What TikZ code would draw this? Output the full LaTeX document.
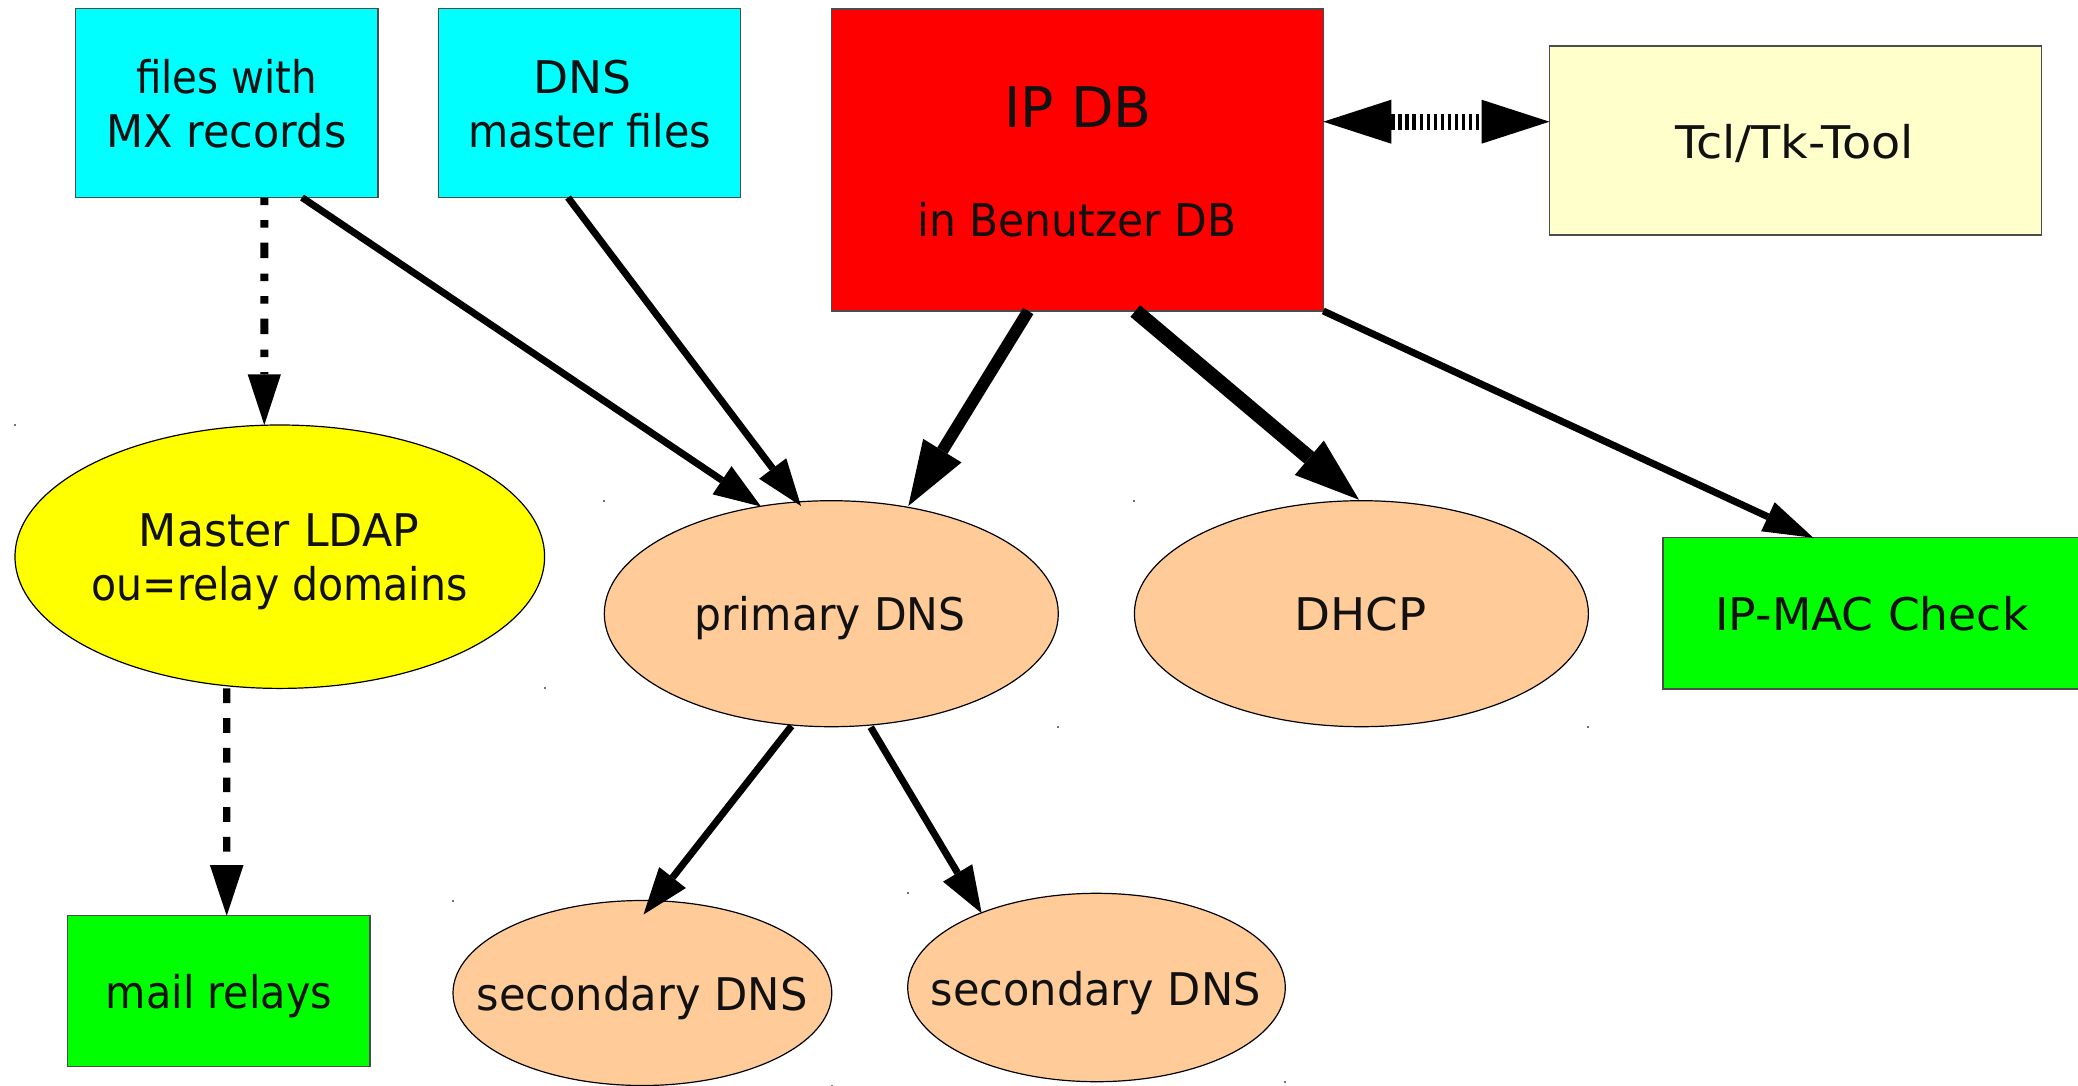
\documentclass[tikz,border=0pt]{standalone}
\usepackage{fontspec}
\setmainfont{DejaVu Sans}
\usetikzlibrary{arrows.meta,calc,shapes.geometric}

\definecolor{filecyan}{HTML}{00FFFF}
\definecolor{dbred}{HTML}{FF0000}
\definecolor{toolcream}{HTML}{FFFFCC}
\definecolor{ldapyellow}{HTML}{FFFF00}
\definecolor{svcpeach}{HTML}{FFCC99}
\definecolor{consgreen}{HTML}{00FF00}
\definecolor{ink}{HTML}{111111}

% set a label line to a given width, keeping its height
\newcommand\fitw[2]{\resizebox{#1pt}{\height}{#2}}

\begin{document}
\begin{tikzpicture}[x=1pt,y=-1pt,
  box/.style={rectangle, draw=black!70, line width=1.3pt, inner sep=0pt, outer sep=0pt},
  oval/.style={ellipse, draw=black, line width=1.2pt, inner sep=0pt, outer sep=0pt, fill=svcpeach},
  lbl/.style={inner sep=0pt, outer sep=0pt, anchor=base, text=ink, font=\fontsize{45}{50}\selectfont},
  biglbl/.style={lbl, font=\fontsize{56}{64}\selectfont},
  flow/.style={line width=7pt, -{Triangle[length=47pt,width=34pt,line width=0pt]}},
  heavy/.style={-{Triangle[length=65pt,width=45pt,line width=0pt]}},
  dotflow/.style={line width=8pt,
    dash pattern=on 7.5pt off 15pt on 7.5pt off 15pt on 15.5pt off 15.5pt,
    -{Triangle[length=50.7pt,width=33.3pt,line width=0pt]}},
  dashflow/.style={line width=7.3pt, dash pattern=on 14.7pt off 15pt,
    -{Triangle[length=50.7pt,width=33.7pt,line width=0pt]}},
  syncflow/.style={line width=15.7pt, dash pattern=on 3.3pt off 3.75pt,
    {Triangle[length=68pt,width=44pt,line width=0pt]}-{Triangle[length=68pt,width=44pt,line width=0pt]}},
  bbdot/.style={fill=black!55}
]
\useasboundingbox (0,0) rectangle (2078,1085);
\fill[white] (0,0) rectangle (2078,1085);

% sources
\node[box, fill=filecyan, minimum width=302.3pt, minimum height=189pt] (mx) at (226.75,103) {};
\node[box, fill=filecyan, minimum width=302.2pt, minimum height=189pt] (dnsm) at (589.7,103) {};
\node[box, fill=dbred, minimum width=491.6pt, minimum height=302pt] (ipdb) at (1077.5,160) {};
\node[box, fill=toolcream, minimum width=492pt, minimum height=189pt] (tool) at (1795.5,140.5) {};

% services
\node[oval, fill=ldapyellow, minimum width=529.6pt, minimum height=263.4pt] (ldap) at (279.8,556.7) {};
\node[oval, minimum width=454pt, minimum height=226pt] (prim) at (831.3,613.7) {};
\node[oval, minimum width=454pt, minimum height=226pt] (dhcp) at (1361.4,613.7) {};
\node[box, fill=consgreen, minimum width=418pt, minimum height=151.3pt] (ipmac) at (1872,613.4) {};
\node[box, fill=consgreen, minimum width=302.3pt, minimum height=151pt] (mail) at (218.85,991.2) {};
\node[oval, minimum width=378.8pt, minimum height=185pt] (sec1) at (642.4,993) {};
\node[oval, minimum width=377.6pt, minimum height=188.4pt] (sec2) at (1096.5,987.5) {};

% bounding-box corner marks of the ellipses
\foreach \e in {ldap,prim,dhcp,sec1,sec2} {
  \fill[bbdot] ($(\e.west |- \e.north)+(-1,-1)$) rectangle +(2,2);
  \fill[bbdot] ($(\e.east |- \e.south)+(-1,-1)$) rectangle +(2,2);
}

% labels
\node[lbl] (mx-l1) at (226.5,93.5) {\fitw{181}{files with}};
\node[lbl] (mx-l2) at (226.5,147) {\fitw{240}{MX records}};
\node[lbl] (dnsm-l1) at (582.5,93.5) {\fitw{98}{DNS}};
\node[lbl] (dnsm-l2) at (589.7,147) {\fitw{243}{master files}};
\node[biglbl] (ipdb-l1) at (1078,127) {\fitw{148}{IP DB}};
\node[lbl] (ipdb-l2) at (1077,236.7) {\fitw{319}{in Benutzer DB}};
\node[lbl] (tool-l) at (1794.5,158.3) {\fitw{239}{Tcl/Tk-Tool}};
\node[lbl] (ldap-l1) at (279,546.7) {\fitw{280}{Master LDAP}};
\node[lbl] (ldap-l2) at (279.6,600) {\fitw{376}{ou=relay domains}};
\node[lbl] (prim-l) at (830,630) {\fitw{271}{primary DNS}};
\node[lbl] (dhcp-l) at (1360.3,630) {\fitw{132}{DHCP}};
\node[lbl] (ipmac-l) at (1872,630) {\fitw{313}{IP-MAC Check}};
\node[lbl] (mail-l) at (219,1008.3) {\fitw{226}{mail relays}};
\node[lbl] (sec1-l) at (642,1010) {\fitw{331}{secondary DNS}};
\node[lbl] (sec2-l) at (1095.7,1005) {\fitw{330}{secondary DNS}};

% connectors
\draw[dotflow] ($(mx.south)+(37.6,0)$) -- ($(ldap.north)+(-15.5,0)$);
\draw[dashflow] ($(ldap.south)+(-53.1,0)$) -- ($(mail.north)+(7.85,0)$);
\draw[flow] ($(mx.south)+(75.25,0)$) -- ($(prim.center)+(-70.3,-107.2)$);
\draw[flow] ($(dnsm.south)+(-21.7,0)$) -- ($(prim.center)+(-30.3,-107.7)$);
\draw[heavy, line width=12pt] ($(ipdb.south)+(-49.2,0)$) -- ($(prim.center)+(77,-107.7)$);
\draw[heavy, line width=15pt] ($(ipdb.south)+(57.8,0)$) -- ($(dhcp.north)+(-2.4,-1)$);
\draw[flow, -{Triangle[length=50pt,width=32pt,line width=0pt]}] (ipdb.south east) -- ($(ipmac.north)+(-58.7,0)$);
\draw[syncflow] ($(ipdb.east)+(0,-38.3)$) -- ($(tool.west)+(0,-18.8)$);
\draw[flow] ($(prim.center)+(-39.8,112.3)$) -- ($(sec1.center)+(1.1,-78.5)$);
\draw[flow] ($(prim.center)+(39.4,113.5)$) -- ($(sec2.center)+(-114.8,-74.2)$);
\end{tikzpicture}
\end{document}
